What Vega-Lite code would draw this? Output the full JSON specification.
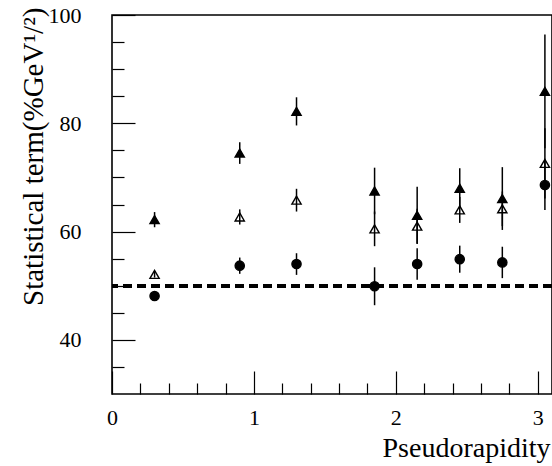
{
  "$schema": "https://vega.github.io/schema/vega-lite/v6.json",
  "width": 440,
  "height": 379,
  "autosize": "none",
  "padding": {"left": 112, "top": 15, "right": 0, "bottom": 72},
  "background": "white",
  "config": {
    "view": {"stroke": "black", "strokeWidth": 1.6},
    "axis": {"labelFont": "Liberation Serif", "titleFont": "Liberation Serif", "labelColor": "black", "titleColor": "black", "titleFontWeight": "normal", "tickColor": "black", "domain": false, "grid": false}
  },
  "data": {"values": [
    {"eta": 0.3, "value": 62.2, "err": 1.4, "series": "filled triangle"},
    {"eta": 0.9, "value": 74.5, "err": 2.0, "series": "filled triangle"},
    {"eta": 1.3, "value": 82.2, "err": 2.6, "series": "filled triangle"},
    {"eta": 1.85, "value": 67.5, "err": 4.3, "series": "filled triangle"},
    {"eta": 2.15, "value": 63.0, "err": 5.3, "series": "filled triangle"},
    {"eta": 2.45, "value": 68.0, "err": 3.7, "series": "filled triangle"},
    {"eta": 2.75, "value": 66.1, "err": 5.8, "series": "filled triangle"},
    {"eta": 3.05, "value": 85.9, "err": 10.5, "series": "filled triangle"},
    {"eta": 0.3, "value": 52.1, "err": 0.6, "series": "open triangle"},
    {"eta": 0.9, "value": 62.7, "err": 1.4, "series": "open triangle"},
    {"eta": 1.3, "value": 65.8, "err": 2.1, "series": "open triangle"},
    {"eta": 1.85, "value": 60.5, "err": 3.2, "series": "open triangle"},
    {"eta": 2.15, "value": 61.0, "err": 3.2, "series": "open triangle"},
    {"eta": 2.45, "value": 64.0, "err": 2.4, "series": "open triangle"},
    {"eta": 2.75, "value": 64.2, "err": 3.2, "series": "open triangle"},
    {"eta": 3.05, "value": 72.6, "err": 6.5, "series": "open triangle"},
    {"eta": 0.3, "value": 48.1, "err": 0.5, "series": "filled circle"},
    {"eta": 0.9, "value": 53.7, "err": 1.5, "series": "filled circle"},
    {"eta": 1.3, "value": 54.0, "err": 2.0, "series": "filled circle"},
    {"eta": 1.85, "value": 49.9, "err": 3.5, "series": "filled circle"},
    {"eta": 2.15, "value": 54.0, "err": 2.9, "series": "filled circle"},
    {"eta": 2.45, "value": 54.9, "err": 2.5, "series": "filled circle"},
    {"eta": 2.75, "value": 54.3, "err": 2.9, "series": "filled circle"},
    {"eta": 3.05, "value": 68.6, "err": 4.6, "series": "filled circle"}
  ]},
  "encoding": {
    "x": {
      "field": "eta", "type": "quantitative",
      "scale": {"domain": [0, 3.1], "nice": false, "zero": false},
      "axis": {
        "title": "Pseudorapidity",
        "values": [0, 0.2, 0.4, 0.6, 0.8, 1, 1.2, 1.4, 1.6, 1.8, 2, 2.2, 2.4, 2.6, 2.8, 3],
        "tickSize": {"condition": {"test": "datum.value % 1 === 0", "value": -23}, "value": -11},
        "tickWidth": 1.2,
        "labelExpr": "datum.value % 1 === 0 ? format(datum.value, 'd') : ''",
        "labelFontSize": 22,
        "labelPadding": 36,
        "labelFlush": false,
        "titleFontSize": 28,
        "titleAlign": "right",
        "titleAnchor": "end",
        "titleBaseline": "alphabetic",
        "titleX": 438,
        "titleY": 62
      }
    },
    "y": {
      "field": "value", "type": "quantitative",
      "scale": {"domain": [30, 100], "nice": false, "zero": false},
      "axis": {
        "title": "Statistical term(%GeV¹/²)",
        "values": [35, 40, 45, 50, 55, 60, 65, 70, 75, 80, 85, 90, 95, 100],
        "tickSize": {"condition": {"test": "datum.value % 20 === 0", "value": -23}, "value": -12},
        "tickWidth": 1.2,
        "labelExpr": "datum.value % 20 === 0 ? format(datum.value, 'd') : ''",
        "labelFontSize": 22,
        "labelPadding": 54,
        "labelFlush": false,
        "titleFontSize": 29,
        "titleAngle": -90,
        "titleAlign": "right",
        "titleAnchor": "end",
        "titleBaseline": "alphabetic",
        "titleX": -70,
        "titleY": -8
      }
    }
  },
  "layer": [
    {
      "mark": {"type": "rule", "strokeDash": [9, 5], "strokeWidth": 3.5, "color": "black"},
      "encoding": {"y": {"datum": 50, "type": "quantitative"}, "x": null}
    },
    {
      "mark": {"type": "point", "filled": true, "opacity": 1, "strokeWidth": 1.4, "stroke": "black", "size": 85},
      "encoding": {
        "shape": {"field": "series", "type": "nominal", "scale": {"domain": ["filled triangle", "open triangle", "filled circle"], "range": ["triangle-up", "triangle-up", "circle"]}, "legend": null},
        "fill": {"field": "series", "type": "nominal", "scale": {"domain": ["filled triangle", "open triangle", "filled circle"], "range": ["black", "white", "black"]}, "legend": null}
      }
    },
    {
      "mark": {"type": "errorbar", "color": "black", "thickness": 1.5},
      "encoding": {"yError": {"field": "err"}, "detail": {"field": "series"}}
    }
  ]
}
